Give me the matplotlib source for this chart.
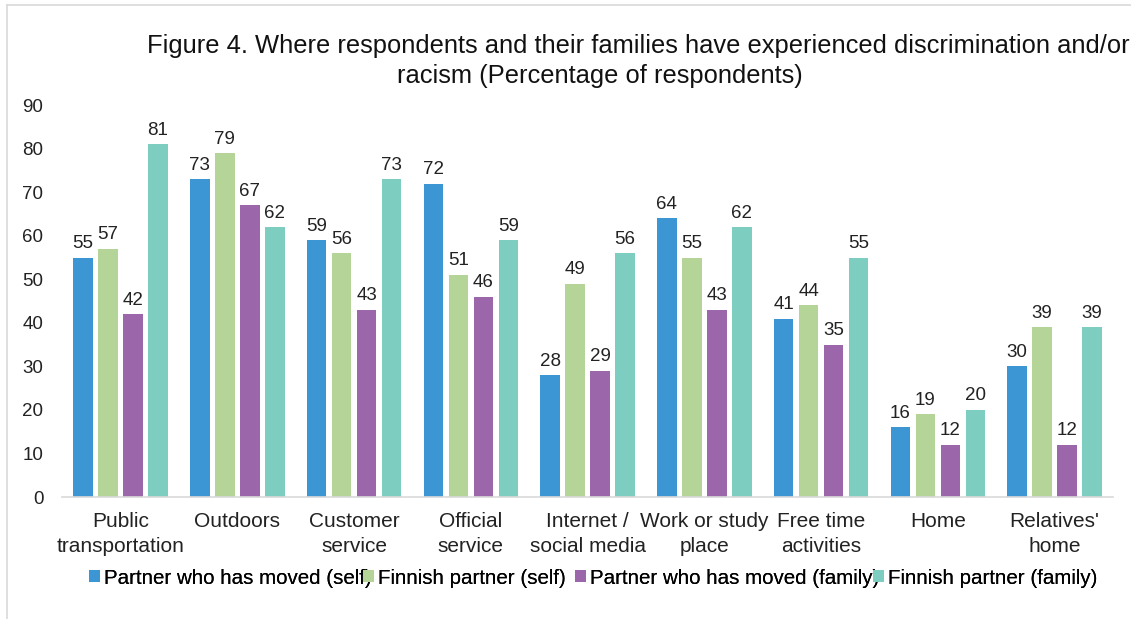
import matplotlib.pyplot as plt
import numpy as np
from matplotlib.patches import Patch
from matplotlib.lines import Line2D

plt.rcParams['font.family'] = ['Liberation Sans', 'DejaVu Sans']

# data
categories = ['Public\ntransportation', 'Outdoors', 'Customer\nservice', 'Official\nservice',
              'Internet /\nsocial media', 'Work or study\nplace', 'Free time\nactivities',
              'Home', "Relatives'\nhome"]
moved_self = [55, 73, 59, 72, 28, 64, 41, 16, 30]
finnish_self = [57, 79, 56, 51, 49, 55, 44, 19, 39]
moved_family = [42, 67, 43, 46, 29, 43, 35, 12, 12]
finnish_family = [81, 62, 73, 59, 56, 62, 55, 20, 39]

series_names = ['Partner who has moved (self)', 'Finnish partner (self)',
                'Partner who has moved (family)', 'Finnish partner (family)']
colors = ['#3C96D3', '#B5D497', '#9C66AA', '#7ECDC1']

fig = plt.figure(figsize=(11.31, 6.19), dpi=100)
ax = fig.add_axes([0.055, 0.197, 0.929, 0.633])

x = np.arange(len(categories))
width = 0.167
step = 0.214
all_series = [moved_self, finnish_self, moved_family, finnish_family]
for i, (vals, c) in enumerate(zip(all_series, colors)):
    pos = x + (i - 1.5) * step
    bars = ax.bar(pos, vals, width, color=c)
    ax.bar_label(bars, labels=[str(v) for v in vals], padding=4, fontsize=13.5, color='#222222')

ax.set_xlim(-0.5, len(categories) - 0.5)
ax.set_ylim(0, 90)
ax.set_yticks(range(0, 91, 10))
ax.set_xticks(x)
ax.set_xticklabels(categories, fontsize=15, linespacing=1.35)
ax.tick_params(axis='both', length=0, colors='#222222')
ax.tick_params(axis='y', labelsize=13.5, pad=13.5)
ax.tick_params(axis='x', pad=11)
for s in ['top', 'right', 'left']:
    ax.spines[s].set_visible(False)
ax.spines['bottom'].set_color('#d9d9d9')
ax.spines['bottom'].set_linewidth(1.2)

# title, two lines as in the original
fig.text(638 / 1131, 1 - 46 / 619, 'Figure 4. Where respondents and their families have experienced discrimination and/or',
         ha='center', va='center', fontsize=18.4, color='#111111')
fig.text(600 / 1131, 1 - 76 / 619, 'racism (Percentage of respondents)',
         ha='center', va='center', fontsize=18.4, color='#111111')

# legend: one entry per legend so each sits where the original put it
legend_x = [89, 363, 575, 873]
for name, c, lx in zip(series_names, colors, legend_x):
    leg = fig.legend([Patch(facecolor=c, edgecolor='none')], [name], loc='center left',
                     bbox_to_anchor=(lx / 1131, 1 - 578 / 619), frameon=False, fontsize=14.8,
                     handlelength=0.55, handleheight=0.55, handletextpad=0.2,
                     borderpad=0, borderaxespad=0)
    fig.add_artist(leg)

# faint frame lines (top and left) from the original image
fig.add_artist(Line2D([0.006, 1], [1 - 5 / 619, 1 - 5 / 619], color='#d9d9d9', lw=1.2))
fig.add_artist(Line2D([0.006, 0.006], [0, 1 - 5 / 619], color='#d9d9d9', lw=1.2))

fig.savefig('out.png', dpi=100)
